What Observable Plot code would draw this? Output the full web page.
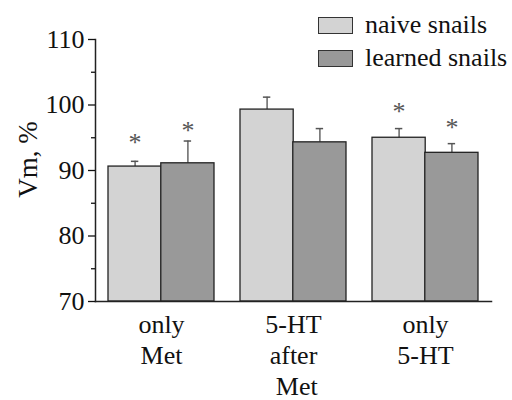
<!DOCTYPE html>
<html><head><meta charset="utf-8">
<script src="https://cdn.jsdelivr.net/npm/d3@7"></script>
<script src="https://cdn.jsdelivr.net/npm/@observablehq/plot@0.6"></script>
<style>
body{margin:0;background:#fff;}
#wrap{position:relative;width:512px;height:400px;font-family:"Liberation Serif",serif;color:#111;}
.leg{position:absolute;left:318px;height:20px;display:flex;align-items:center;font-size:26px;white-space:nowrap;font-family:"Liberation Serif",serif;}
.sw{width:33px;height:15px;border:1.5px solid #333;margin-right:12px;box-sizing:content-box;}
</style></head><body><div id="wrap"></div>
<script>
const groups = ["only\nMet", "5-HT\nafter\n Met", "only\n5-HT"];
const series = ["naive snails", "learned snails"];
const naiveVals = [90.6, 99.3, 95.0];
const naiveErr = [0.8, 1.9, 1.4];
const learnedVals = [91.1, 94.3, 92.7];
const learnedErr = [3.4, 2.1, 1.4];
const naiveStar = [94.9, null, 99.6];
const learnedStar = [96.7, null, 97.2];
const yTicks = [70, 80, 90, 100, 110];
const yMinor = [75, 85, 95, 105];
const yLabel = "Vm, %";
const colors = ["#d3d3d3", "#999999"];

const W = 512, H = 400, ML = 95, MR = 21, MT = 39, MB = 99;
const pIn = 0.2, pOut = 0.1;
const step = (W - ML - MR) / (groups.length - pIn + 2 * pOut);
const bw = step * (1 - pIn), half = bw / 2, cap = 7;
const serif = "Liberation Serif";

const naive = groups.map((g, i) => ({group: g, series: series[0], value: naiveVals[i], top: naiveVals[i] + naiveErr[i], star: naiveStar[i]}));
const learned = groups.map((g, i) => ({group: g, series: series[1], value: learnedVals[i], top: learnedVals[i] + learnedErr[i], star: learnedStar[i]}));

function layer(data, side) {
  const off = side * half / 2;
  const insL = side < 0 ? 0 : half, insR = side < 0 ? half : 0;
  const capL = (side < 0 ? 0 : half) + half / 2 - cap / 2;
  const capR = bw - capL - cap;
  return [
    Plot.ruleX(data, {x: "group", y1: "value", y2: "top", dx: off, stroke: "#666", strokeWidth: 1.5}),
    Plot.tickY(data, {x: "group", y: "top", insetLeft: capL, insetRight: capR, stroke: "#555", strokeWidth: 1.5}),
    Plot.barY(data, {x: "group", y1: yTicks[0], y2: "value", fill: "series", stroke: "#222", strokeWidth: 1.3, insetLeft: insL, insetRight: insR}),
    Plot.text(data.filter(d => d.star != null), {x: "group", y: "star", text: () => "*", dx: off, dy: 4, fontSize: 26, fill: "#555", fontFamily: serif})
  ];
}

const chart = Plot.plot({
  width: W, height: H,
  marginLeft: ML, marginRight: MR, marginTop: MT, marginBottom: MB,
  style: {fontFamily: serif, color: "#111", background: "white"},
  x: {domain: groups, paddingInner: pIn, paddingOuter: pOut},
  y: {domain: [yTicks[0], yTicks[yTicks.length - 1]]},
  color: {domain: series, range: colors},
  marks: [
    ...layer(naive, -1),
    ...layer(learned, 1),
    Plot.frame({anchor: "left", stroke: "#222", strokeWidth: 1.5}),
    Plot.frame({anchor: "bottom", stroke: "#222", strokeWidth: 1.5}),
    Plot.axisX({tickSize: 0, tickPadding: 9, fontSize: 26, lineHeight: 1.2, label: null, fontFamily: serif}),
    Plot.axisY({ticks: yTicks, tickSize: 7, tickPadding: 4, fontSize: 26, strokeWidth: 1.3, label: null, fontFamily: serif}),
    Plot.axisY({ticks: yMinor, tickSize: 4, tickFormat: () => "", strokeWidth: 1.3, label: null}),
    Plot.text([yLabel], {text: d => d, frameAnchor: "left", textAnchor: "middle", lineAnchor: "middle", rotate: -90, dx: -67, dy: -11, fontSize: 27, fill: "#111", fontFamily: serif})
  ]
});

const wrap = document.getElementById("wrap");
wrap.appendChild(chart);
series.forEach((s, i) => {
  const d = document.createElement("div");
  d.className = "leg";
  d.style.top = (15 + i * 33) + "px";
  const sw = document.createElement("span");
  sw.className = "sw";
  sw.style.background = colors[i];
  const t = document.createElement("span");
  t.textContent = s;
  d.appendChild(sw); d.appendChild(t);
  wrap.appendChild(d);
});
</script></body></html>
